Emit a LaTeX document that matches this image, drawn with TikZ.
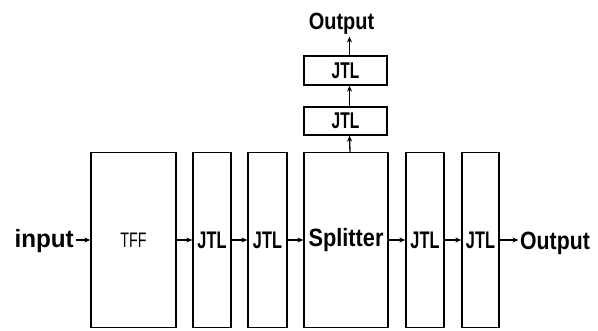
\documentclass[tikz,border=0pt]{standalone}
\usepackage{fontspec}
\setmainfont{Liberation Sans}
\usepackage{graphicx}
\usetikzlibrary{arrows.meta}
\tikzset{
  blk/.style={draw=black, line width=1.3pt, inner sep=0pt, minimum height=175pt},
  sblk/.style={draw=black, line width=1.3pt, inner sep=0pt, minimum width=83pt},
  lbl/.style={inner sep=1.5pt},
  arr/.style={-{Stealth[length=6pt,width=5pt]}, line width=1.3pt},
}
\newcommand{\jtl}{\scalebox{0.68}[1]{\fontsize{24}{26}\selectfont\bfseries JTL}}
\newcommand{\bigtxt}[2]{\scalebox{#1}[1]{\fontsize{25}{27}\selectfont\bfseries #2}}
\begin{document}
\begin{tikzpicture}[x=1pt,y=1pt]
\useasboundingbox (0,0) rectangle (598,330);
\node[blk, minimum width=85pt] (tff) at (133.5,90) {\scalebox{0.68}[1]{\fontsize{21}{23}\selectfont TFF}};
\node[blk, minimum width=38pt] (j1) at (212,90) {\jtl};
\node[blk, minimum width=39pt] (j2) at (267.5,90) {\jtl};
\node[blk, minimum width=84pt] (spl) at (346,90) {\bigtxt{0.87}{Splitter}};
\node[blk, minimum width=38pt] (j3) at (425,90) {\jtl};
\node[blk, minimum width=37pt] (j4) at (480.5,90) {\jtl};
\node[sblk, minimum height=28pt] (ja) at (345.5,209) {\scalebox{0.95}{\jtl}};
\node[sblk, minimum height=29pt] (jb) at (345.5,259.5) {\scalebox{0.95}{\jtl}};
\node[lbl, anchor=base east] (in) at (75.5,83) {\bigtxt{0.97}{input}};
\node[lbl, anchor=base west] (out) at (518.5,81) {\bigtxt{0.85}{Output}};
\node[lbl, anchor=base] (outt) at (341.5,300) {\scalebox{0.94}{\bigtxt{0.85}{Output}}};
\draw[arr] (in.east |- tff.west) -- (tff.west);
\draw[arr] (tff) -- (j1);
\draw[arr] (j1) -- (j2);
\draw[arr] (j2) -- (spl);
\draw[arr] (spl) -- (j3);
\draw[arr] (j3) -- (j4);
\draw[arr] (j4.east) -- (out.west |- j4.east);
\draw[arr] ([xshift=4pt]spl.north) -- ([xshift=4pt]ja.south);
\draw[arr] ([xshift=4pt]ja.north) -- ([xshift=4pt]jb.south);
\draw[arr] ([xshift=4pt]jb.north) -- ([xshift=4pt]jb.north |- outt.south);
\end{tikzpicture}
\end{document}
